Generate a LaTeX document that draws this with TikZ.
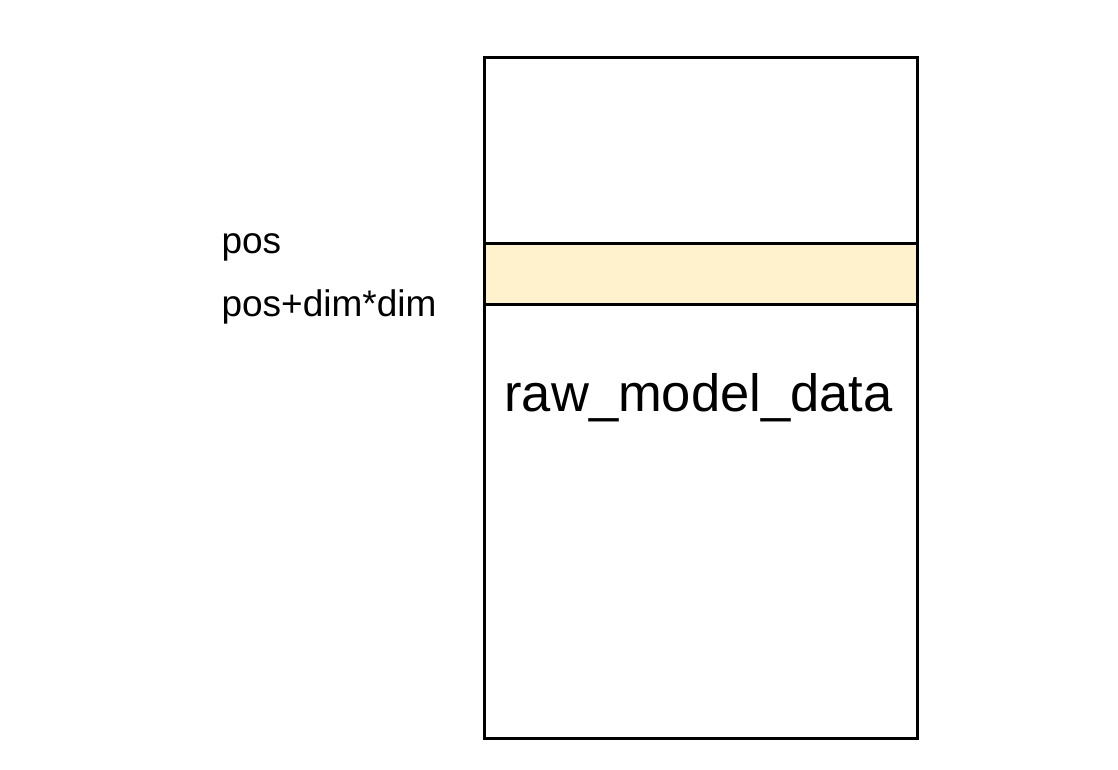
\documentclass[tikz,border=0pt]{standalone}
\usepackage{fontspec}
\setmainfont{Liberation Sans}
\usepackage{tikz}
\usetikzlibrary{positioning}
\definecolor{slicecolor}{HTML}{FFF2CC}

\begin{document}
\begin{tikzpicture}[x=1pt,y=-1pt,line width=3pt,
  block/.style={draw=black,inner sep=0pt,outer sep=0pt},
  label/.style={inner sep=0pt,anchor=base west,font=\fontsize{37}{44}\selectfont}]
  \useasboundingbox (0,0) rectangle (1118,770);
  % whole buffer
  \node[block,minimum width=433pt,minimum height=680pt] (buffer) at (700.5,398) {};
  % slice that is read
  \node[block,fill=slicecolor,minimum width=433pt,minimum height=61pt] (slice) at (700.5,273.5) {};
  \node[inner sep=0pt,anchor=base,font=\fontsize{52.5}{60}\selectfont] (name) at (698.5,411) {raw\_model\_data};
  \node[label] (start) at (220,253) {pos};
  \node[label] (stop) at (220,316) {pos+dim*dim};
\end{tikzpicture}
\end{document}
